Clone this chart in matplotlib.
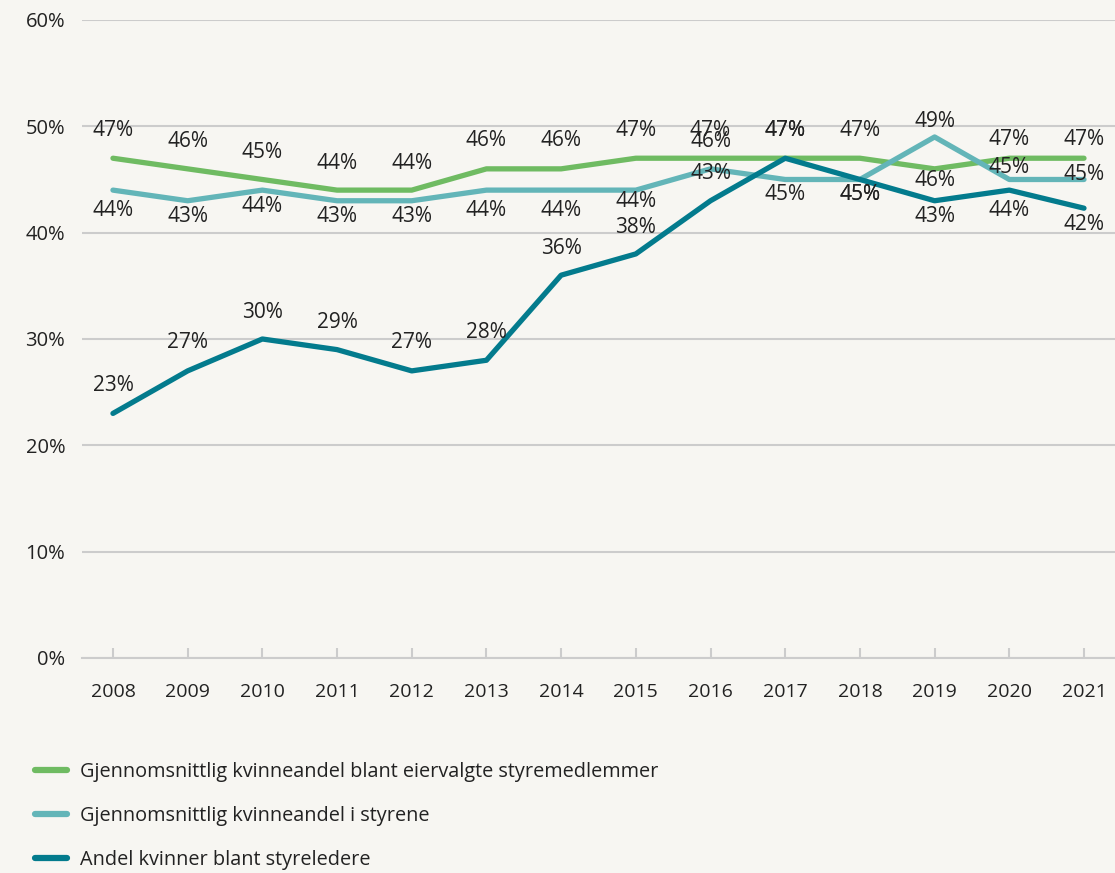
import matplotlib
matplotlib.use("Agg")
import matplotlib.pyplot as plt

years = [2008, 2009, 2010, 2011, 2012, 2013, 2014, 2015, 2016, 2017, 2018, 2019, 2020, 2021]
eiervalgte = [47, 46, 45, 44, 44, 46, 46, 47, 47, 47, 47, 46, 47, 47]
styrene = [44, 43, 44, 43, 43, 44, 44, 44, 46, 45, 45, 49, 45, 45]
styreledere = [23, 27, 30, 29, 27, 28, 36, 38, 43, 47, 45, 43, 44, 42.3]
names = ["Gjennomsnittlig kvinneandel blant eiervalgte styremedlemmer",
         "Gjennomsnittlig kvinneandel i styrene",
         "Andel kvinner blant styreledere"]
colors = ["#6fbb62", "#63b5b8", "#037b8d"]

# vertical label offsets (pixels, up is positive)
offs_green = [28, 27, 27, 27, 27, 28, 28, 28, 28, 28, 28, -12, 19, 19]
offs_light = [-20, -16, -16, -16, -16, -20, -20, -11, 27, -15, -15, 15, 12, 5]
offs_dark = [28, 28, 26, 27, 28, 28, 27, 26, 27, 28, -15, -16, -20, -16]

plt.rcParams["font.family"] = ["Open Sans", "DejaVu Sans"]
bg = "#f7f6f2"
grid = "#cccccc"
txt = "#222222"

fig = plt.figure(figsize=(11.15, 8.73), dpi=100, facecolor=bg)
ax = fig.add_axes([0.0735, 0.2463, 0.9265, 0.7308], facecolor=bg)

x = list(range(len(years)))
series = [eiervalgte, styrene, styreledere]
offsets = [offs_green, offs_light, offs_dark]
for vals, col, name in zip(series, colors, names):
    ax.plot(x, vals, color=col, lw=3.8, label=name, solid_capstyle="round", zorder=3)

for vals, offs in zip(series, offsets):
    for xi, v, o in zip(x, vals, offs):
        ax.annotate(f"{round(v)}%", (xi, v), xytext=(0, o), textcoords="offset pixels",
                    ha="center", va="center", fontsize=15, color=txt, zorder=4)

ax.set_xlim(-0.415, len(years) - 1 + 0.415)
ax.set_ylim(0, 60)
ax.set_yticks([0, 10, 20, 30, 40, 50, 60])
ax.set_yticklabels([f"{t}%" for t in [0, 10, 20, 30, 40, 50, 60]])
ax.set_xticks(x)
ax.set_xticklabels([str(y) for y in years])
ax.grid(axis="y", color=grid, lw=1.5, zorder=0)
for s in ["top", "right", "left"]:
    ax.spines[s].set_visible(False)
ax.spines["bottom"].set_color(grid)
ax.spines["bottom"].set_linewidth(1.5)
ax.tick_params(axis="y", length=0, pad=12, labelsize=14.5, labelcolor=txt)
ax.tick_params(axis="x", direction="in", length=7, width=1.5, color=grid, pad=18,
               labelsize=14, labelcolor=txt)

leg = fig.legend(loc="upper left", bbox_to_anchor=(0.0314, 0.127), frameon=False,
                 fontsize=14.3, handlelength=1.6, handletextpad=0.65, labelspacing=1.2,
                 borderpad=0, borderaxespad=0)
for h in leg.get_lines():
    h.set_linewidth(4.5)
for t in leg.get_texts():
    t.set_color(txt)

fig.savefig("out.png", dpi=100, facecolor=bg)
